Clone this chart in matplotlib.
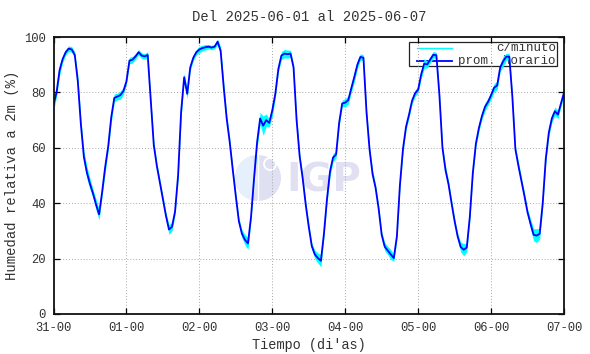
import numpy as np
import matplotlib
matplotlib.use("Agg")
import matplotlib.pyplot as plt
from matplotlib.patches import Circle, Rectangle, Wedge, Arc

TITULO = "Del 2025-06-01 al 2025-06-07"
XLABEL = "Tiempo (di'as)"
YLABEL = "Humedad relativa a 2m (%)"
DIAS = ["31-00", "01-00", "02-00", "03-00", "04-00", "05-00", "06-00", "07-00"]
YTICKS = [0, 20, 40, 60, 80, 100]
LEYENDA = ["c/minuto", "prom. horario"]

# promedio horario de humedad relativa (%), 24 valores por dia desde 31-00 00h
HR_D0 = [75.5, 80, 88, 92, 94.5, 95.8, 95.5, 93.5, 84, 68.6, 56.7, 51,
         47, 43.5, 39.5, 36, 44, 53, 60.5, 71, 78, 78.5, 79, 80.5]
HR_D1 = [84, 91.5, 91.8, 93, 94.5, 93.3, 93, 93.5, 77, 61, 53.5, 47.5,
         41.5, 35.5, 30.5, 31.5, 37, 50, 73, 85.5, 79.5, 89, 92.5, 94.5]
HR_D2 = [95.5, 96, 96.3, 96.5, 96.2, 96.5, 98.3, 95, 82, 70.5, 62, 52,
         42.5, 33.5, 29, 26.8, 25.5, 35, 49, 62, 70.6, 68, 70, 69]
HR_D3 = [73.5, 79.5, 88.5, 93.3, 94, 93.8, 94, 89, 70, 57, 49, 39.5,
         31.5, 24.5, 21.5, 20.2, 19.2, 29, 41.5, 51.5, 56.5, 57.6, 69, 76]
HR_D4 = [76.3, 77.2, 81.5, 85.6, 90, 92.8, 92.5, 73, 59.5, 50.5, 45.5, 38,
         28.6, 24.3, 22.9, 21.5, 20.2, 28, 46.5, 59.5, 67.5, 72, 77, 79.7]
HR_D5 = [81, 86.5, 90.4, 90.1, 91.9, 93.6, 93.4, 79, 60, 52, 46.8, 40,
         33.5, 28, 24.2, 23.2, 24, 35, 51, 61.5, 67.2, 71.5, 74.8, 76.6]
HR_D6 = [79, 81.7, 82.5, 89, 91.3, 92.9, 92.9, 78.5, 59.5, 53.5, 48, 42.5,
         36.7, 32.5, 28.6, 28.3, 29, 40, 56, 65.5, 70.6, 73.2, 72, 76]
HR_FIN = [80]

# semi-rango de la serie por minuto dentro de cada hora (%)
RG_D0 = [2.5, 1.5, 2, 1.2, 1, 1, 1, 1.2, 2.2, 2, 2.2, 2.2,
         2, 1.5, 2, 2, 1.5, 2, 1.5, 2, 1.5, 1.2, 1.5, 1.2]
RG_D1 = [1.2, 1.2, 1.2, 1, 1, 1, 1, 1.2, 1.5, 1.5, 1.2, 1.2,
         1.2, 1.2, 1.8, 1.5, 1.2, 1.5, 2.2, 1.5, 1.8, 1.2, 1, 1]
RG_D2 = [1.2, 1, 1, 0.8, 0.8, 0.8, 1, 1.5, 2, 1.5, 1.2, 1.2,
         1.2, 1.2, 1.5, 1.8, 2.2, 1.2, 1.2, 2.2, 2.2, 3.5, 2.2, 1.5]
RG_D3 = [2.2, 1.5, 1.2, 1.5, 1.5, 1.5, 1.2, 1.2, 1.5, 1.2, 1.2, 1.2,
         1.2, 1.2, 1.5, 1.8, 2.2, 1.2, 1.5, 1.8, 1.5, 1.2, 1.2, 1.2]
RG_D4 = [1.5, 1.5, 1.5, 1.8, 1.5, 1.2, 1, 1.2, 1.2, 1.5, 1.2, 1.2,
         1.2, 1.5, 1.5, 1.8, 1.2, 1.2, 1.2, 1.2, 1.2, 1.2, 1.2, 1.2]
RG_D5 = [1.2, 1.5, 1.8, 1.2, 1.2, 1.2, 1, 1.2, 1.2, 1.5, 1.2, 1.2,
         1.2, 1.2, 1.8, 2.2, 1.5, 1.2, 1.2, 1.2, 1.2, 1.2, 1.5, 1.2]
RG_D6 = [1.5, 1.5, 1.5, 1.5, 1.8, 1.2, 1.2, 1.2, 1.2, 1.5, 1.2, 1.2,
         1.2, 1.8, 2.2, 2.5, 1.8, 1.2, 1.5, 1.5, 1.5, 1.5, 1.5, 1.2]
RG_FIN = [1.5]

W, H = 590, 354
FONT = "Liberation Mono"
TXT = "#333333"


def px(x, y):
    """pixel (desde arriba-izquierda) -> coordenadas de figura"""
    return x / W, 1 - y / H


hr = np.array(HR_D0 + HR_D1 + HR_D2 + HR_D3 + HR_D4 + HR_D5 + HR_D6 + HR_FIN)
rg = np.array(RG_D0 + RG_D1 + RG_D2 + RG_D3 + RG_D4 + RG_D5 + RG_D6 + RG_FIN)
dias = np.arange(len(hr)) / 24.0

fig = plt.figure(figsize=(W / 100, H / 100), dpi=100)

# capa de fondo en pixeles: logo IGP y cuadro de leyenda
bg = fig.add_axes([0, 0, 1, 1], zorder=0)
bg.set_xlim(0, W); bg.set_ylim(H, 0); bg.axis("off")
bg.add_patch(Circle((258, 178), 23, color="#e0e0f3", lw=0))
bg.add_patch(Wedge((258, 178), 23, 105, 255, color="#e6f0fd", lw=0))
for r in (12, 18, 24):
    bg.add_patch(Arc((240, 200), 2 * r, 2 * r, theta1=0, theta2=90, color="white", lw=1.3))
bg.plot([258, 258], [155, 201], color="white", lw=1.0)
bg.add_patch(Circle((270, 164), 6, fill=False, ec="white", lw=1.3))
bg.text(286, 192, "IGP", fontsize=28, fontweight="bold", color="#e0e0f2",
        family="DejaVu Sans", ha="left", va="baseline")
bg.add_patch(Rectangle((409.3, 41.7), 147.4, 24.3, fill=False, ec="#222222", lw=0.9))
bg.plot([416.7, 451.7], [47.7, 47.7], color="#00ffff", lw=1.0)
bg.plot([416.7, 451.7], [60.7, 60.7], color="#0000ff", lw=1.3)
bg.text(556, 47.7, LEYENDA[0], family=FONT, fontsize=9, color=TXT, ha="right", va="center")
bg.text(556, 60.7, LEYENDA[1], family=FONT, fontsize=9, color=TXT, ha="right", va="center")

l, t = px(53.5, 37)
r_, b = px(564, 314)
ax = fig.add_axes([l, b, r_ - l, t - b], zorder=1)
ax.set_facecolor("none")

ax.fill_between(dias, hr - rg, hr + rg, color="#00ffff", lw=0)
ax.plot(dias, hr, color="#0000ff", lw=1.3)

ax.set_xlim(0, 7)
ax.set_ylim(0, 100)
ax.set_xticks(range(8))
ax.set_xticklabels(DIAS)
ax.set_yticks(YTICKS)
ax.grid(True, color="#a8a8a8", ls=(0, (1, 2)), lw=0.7)
ax.tick_params(direction="in", top=True, right=True, length=4.5, width=0.9,
               labelsize=8.7, labelcolor=TXT, pad=5.5)
for lab in ax.get_xticklabels() + ax.get_yticklabels():
    lab.set_family(FONT)
for s in ax.spines.values():
    s.set_linewidth(1.3)
    s.set_color("#111111")

fig.text(*px(308.8, 17), TITULO, family=FONT, fontsize=10, color=TXT, ha="center", va="center")
fig.text(*px(308.8, 345), XLABEL, family=FONT, fontsize=9.8, color=TXT, ha="center", va="center")
fig.text(*px(12, 175.5), YLABEL, family=FONT, fontsize=10, color=TXT, ha="center", va="center",
         rotation=90)

fig.savefig("out.png", dpi=100)
